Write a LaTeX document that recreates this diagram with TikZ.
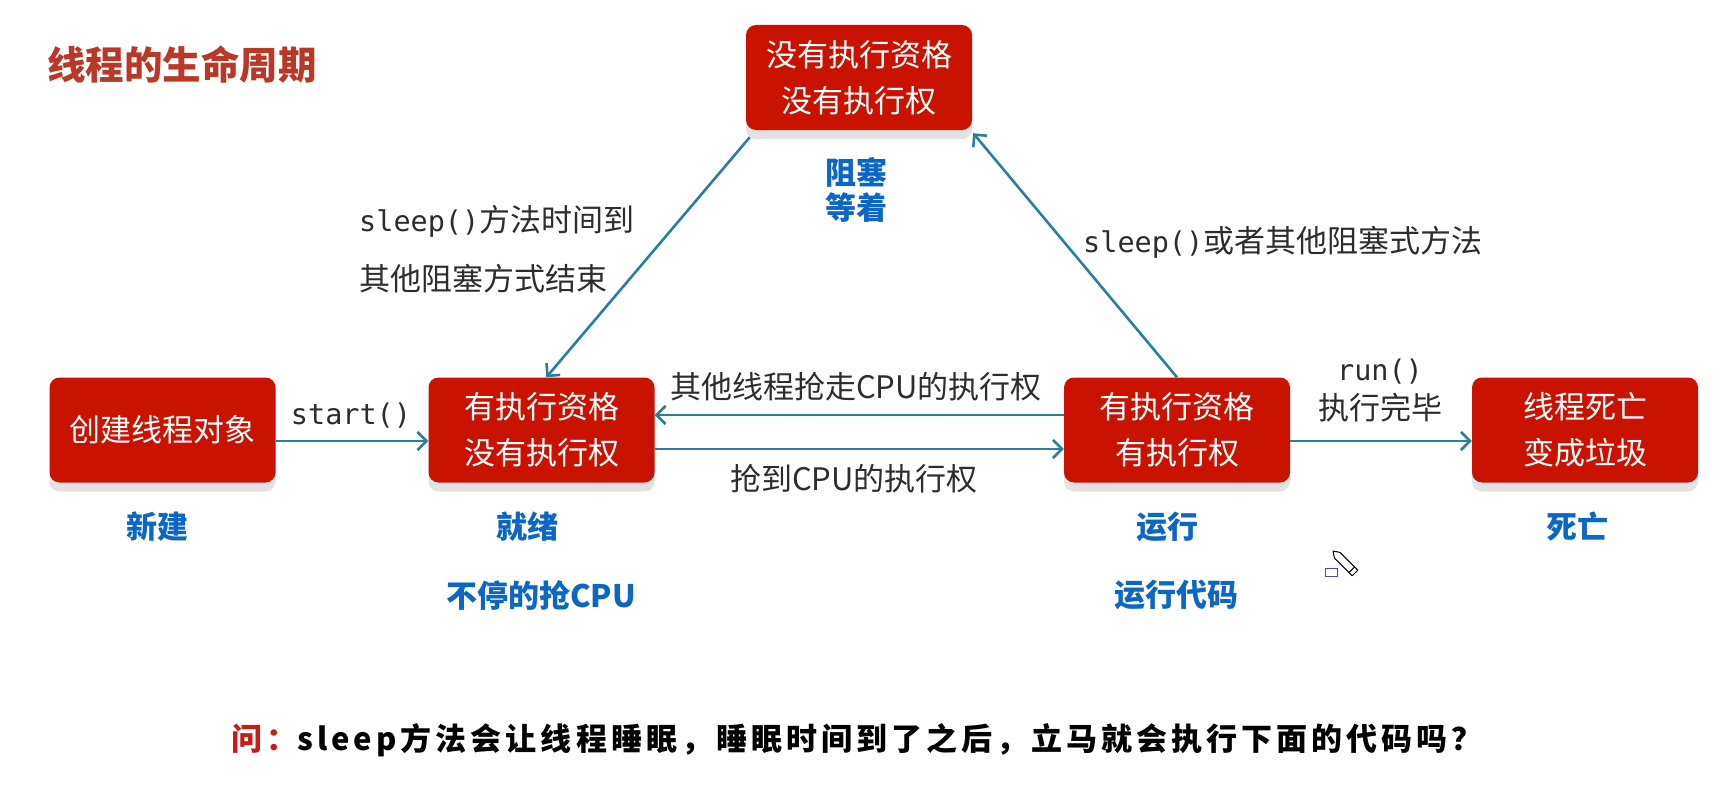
\documentclass[tikz,border=0pt]{standalone}
\usepackage{fontspec}
\setmainfont{Noto Sans CJK SC}
\newfontfamily\cjk{Noto Sans CJK SC}
\newfontfamily\mono{DejaVu Sans Mono}
\newfontfamily\qfont[LetterSpace=13]{Noto Sans CJK SC}
\usetikzlibrary{arrows.meta,shadows}
\definecolor{boxred}{RGB}{202,18,0}
\definecolor{boxshadow}{RGB}{226,226,226}
\definecolor{stateblue}{RGB}{12,102,196}
\definecolor{labelgray}{RGB}{45,45,45}
\definecolor{arrowteal}{RGB}{42,126,158}
\definecolor{titlered}{RGB}{186,56,40}
\definecolor{qred}{RGB}{200,28,20}
\definecolor{cursorblue}{RGB}{70,70,190}
\begin{document}
\begin{tikzpicture}[x=1pt,y=-1pt,
  box/.style={rectangle, rounded corners=10pt, fill=boxred, text=white,
    minimum width=226pt, minimum height=105pt, inner sep=0pt, align=center,
    font=\cjk\fontsize{31}{46}\selectfont,
    general shadow={fill=boxshadow, shadow xshift=0pt, shadow yshift=-9pt}},
  state/.style={text=stateblue, font=\cjk\bfseries\fontsize{31}{38}\selectfont, inner sep=0pt},
  lbl/.style={text=labelgray, font=\cjk\fontsize{31}{38}\selectfont, inner sep=0pt},
  monolbl/.style={text=labelgray, font=\mono\fontsize{28.5}{34}\selectfont, inner sep=0pt},
  arr/.style={draw=arrowteal, line width=2.6pt, -{Straight Barb[length=9pt,width=18pt]}},
]
\useasboundingbox (0,0) rectangle (1722,808);
\fill[white] (0,0) rectangle (1722,808);

% title
\node[text=titlered, font=\cjk\bfseries\fontsize{38.5}{44}\selectfont, inner sep=0pt] (title) at (182,65) {线程的生命周期};

% state boxes
\node[box] (new) at (162.5,430) {创建线程对象};
\node[box] (ready) at (541.5,430) {有执行资格\\没有执行权};
\node[box] (run) at (1177,430) {有执行资格\\有执行权};
\node[box] (dead) at (1585,430) {线程死亡\\变成垃圾};
\node[box] (block) at (859,77.5) {没有执行资格\\没有执行权};

% state names
\node[state] (snew) at (157,527) {新建};
\node[state] (sready) at (527,527) {就绪};
\node[state] (sready2) at (541,595) {不停的抢CPU};
\node[state] (srun) at (1167,527) {运行};
\node[state] (srun2) at (1176,595) {运行代码};
\node[state] (sdead) at (1577,527) {死亡};
\node[state] (sblock) at (856,172) {阻塞};
\node[state] (sblock2) at (856,208) {等着};

% connectors
\draw[arr] ([yshift=-11pt]new.east) -- ([yshift=-11pt]ready.west);
\draw[arr] ([yshift=-19pt]ready.east) -- ([yshift=-19pt]run.west);
\draw[arr] ([yshift=15pt]run.west) -- ([yshift=15pt]ready.east);
\draw[arr] ([yshift=-11pt]run.east) -- ([yshift=-11pt]dead.west);
\coordinate (bstart) at ([xshift=4pt,yshift=-7pt]block.south west);
\coordinate (rend) at ([xshift=118pt]ready.north west);
\draw[arr] (bstart) -- (rend);
\coordinate (bend) at ([xshift=1pt,yshift=-3pt]block.south east);
\draw[arr] (run.north) -- (bend);

% connector labels
\node[monolbl] (lstart) at (351,416) {start()};
\node[lbl] (lsteal) at (856,387) {其他线程抢走CPU的执行权};
\node[lbl] (lget) at (854,479) {抢到CPU的执行权};
\node[monolbl] (lrun) at (1380,372) {run()};
\node[lbl] (ldone) at (1380,408) {执行完毕};
\node[lbl, anchor=west] (lwake1) at (359,221) {{\mono\fontsize{28.5}{34}\selectfont sleep()}方法时间到};
\node[lbl, anchor=west] (lwake2) at (359,279) {其他阻塞方式结束};
\node[lbl, anchor=west] (lsleep) at (1083,242) {{\mono\fontsize{28.5}{34}\selectfont sleep()}或者其他阻塞式方法};

% question
\node[font=\qfont\bfseries\fontsize{31}{36}\selectfont, inner sep=0pt, text=black] (question) at (857,740)
  {{\color{qred}问：}sleep方法会让线程睡眠，睡眠时间到了之后，立马就会执行下面的代码吗？};

% cursor artifact
\draw[cursorblue, line width=1.6pt, fill=white] (1325.5,568.5) rectangle (1337.5,576.5);
\draw[black, line width=1pt, fill=white, line join=round]
  (1333,551) -- (1340,552.4) -- (1357.8,570.2) -- (1352.2,575.8) -- (1334.4,558) -- cycle;
\draw[black, line width=1pt] (1354.5,567) -- (1349,572.6);
\end{tikzpicture}
\end{document}
